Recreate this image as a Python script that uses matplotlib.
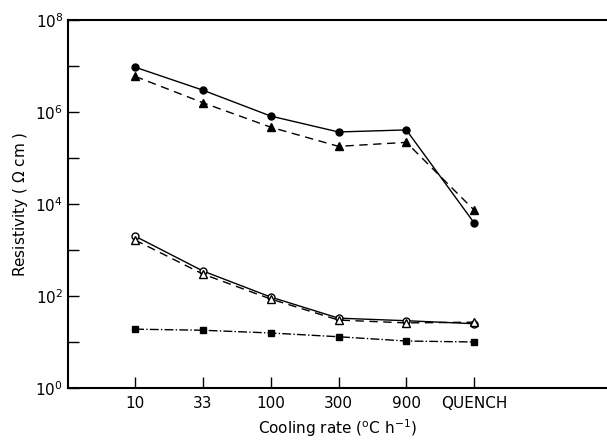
import matplotlib
matplotlib.use("Agg")
import matplotlib.pyplot as plt
import numpy as np

# cooling rate categories
rates = ['10', '33', '100', '300', '900', 'QUENCH']

# resistivity (ohm cm)
filled_circle = [9.5e6, 3.0e6, 8.2e5, 3.7e5, 4.1e5, 3.9e3]
filled_tri = [6.0e6, 1.6e6, 4.7e5, 1.8e5, 2.2e5, 7.4e3]
open_circle = [2.0e3, 350, 95, 33, 29, 25]
open_tri = [1.65e3, 300, 86, 30, 26, 27]
filled_square = [19, 18, 15.7, 13, 10.5, 10]

x = np.arange(len(rates))

fig = plt.figure(figsize=(6.07, 4.48), dpi=100)
ax = fig.add_axes([0.112, 0.134, 0.888, 0.821])

ax.plot(x, filled_circle, 'k-', marker='o', ms=5, lw=1)
ax.plot(x, filled_tri, 'k--', marker='^', ms=6, lw=1, dashes=(6, 4))
ax.plot(x, open_circle, 'k-', marker='o', ms=5, lw=1, mfc='white')
ax.plot(x, open_tri, 'k--', marker='^', ms=6, lw=1, mfc='white', dashes=(6, 4))
ax.plot(x, filled_square, 'k-.', marker='s', ms=5, lw=1)

ax.set_yscale('log')
ax.set_ylim(1, 1e8)
ax.set_xlim(-0.99, 6.96)
ax.set_xticks(x)
ax.set_xticklabels(rates)
ax.set_yticks([1e0, 1e2, 1e4, 1e6, 1e8])
ax.set_yticklabels(['$10^0$', '$10^2$', '$10^4$', '$10^6$', '$10^8$'])
ax.set_yticks([1e1, 1e3, 1e5, 1e7], minor=True)
ax.yaxis.set_minor_formatter(matplotlib.ticker.NullFormatter())
ax.xaxis.set_minor_locator(matplotlib.ticker.NullLocator())
ax.tick_params(axis='both', which='both', direction='in', length=8, width=1, labelsize=11)
ax.tick_params(axis='y', which='minor', length=8)
ax.tick_params(axis='x', pad=6)

for s in ['left', 'top', 'bottom']:
    ax.spines[s].set_linewidth(1.5)
ax.spines['right'].set_visible(False)

ax.set_ylabel('Resistivity ( $\\Omega$ cm )', fontsize=11)
ax.set_xlabel('Cooling rate ($^{\\rm o}$C h$^{-1}$)', fontsize=11, labelpad=4)

fig.savefig('out.png', dpi=100)
